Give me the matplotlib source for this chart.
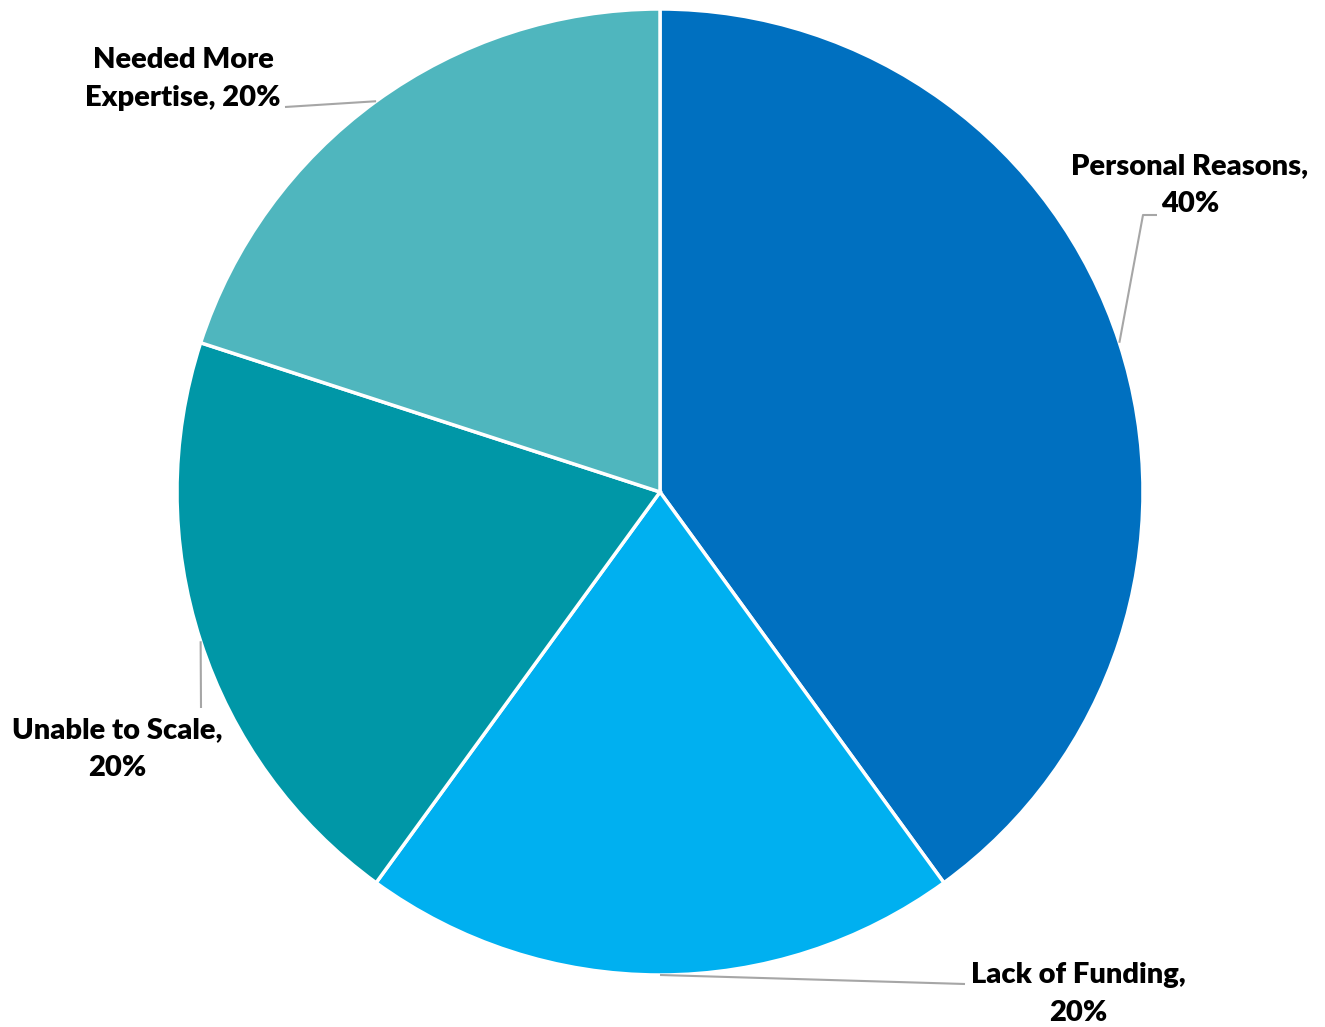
import matplotlib.pyplot as plt
import numpy as np

# data
categories = ["Personal Reasons", "Lack of Funding", "Unable to Scale", "Needed More Expertise"]
shares = [40, 20, 20, 20]
label_texts = ["Personal Reasons,\n40%", "Lack of Funding,\n20%", "Unable to Scale,\n20%", "Needed More\nExpertise, 20%"]
colors = ["#0070C0", "#00B0F0", "#0097A7", "#4FB6BE"]

W, H = 1325, 1027
fig = plt.figure(figsize=(W / 100, H / 100), dpi=100)
ax = fig.add_axes([0, 0, 1, 1])

cx, cy, r = 660, H - 492, 483
wedges, _ = ax.pie(shares, colors=colors, startangle=90, counterclock=False,
                   center=(cx, cy), radius=r, frame=True,
                   wedgeprops=dict(edgecolor="white", linewidth=2.5))
ax.set_xlim(0, W)
ax.set_ylim(0, H)
ax.set_aspect("equal")
ax.axis("off")

# label text positions (pixel, top-origin) and leader elbow points
text_pos = [(1190, 185), (1078, 994), (117, 749), (183, 79)]
elbows = [[(1143, 215), (1157, 215)], [(965, 984)], [(201, 708)], [(285, 107)]]

for w, lab, (tx, ty), elb in zip(wedges, label_texts, text_pos, elbows):
    mid = np.deg2rad((w.theta1 + w.theta2) / 2)
    px, py = cx + r * np.cos(mid), cy + r * np.sin(mid)
    xs = [px] + [e[0] for e in elb]
    ys = [py] + [H - e[1] for e in elb]
    ax.plot(xs, ys, color="#A6A6A6", linewidth=1.5, solid_capstyle="butt", zorder=1)
    ax.text(tx, H - ty, lab, ha="center", va="center", fontsize=21,
            fontweight="heavy", family="Lato", linespacing=1.55, color="black")

fig.savefig("out.png", dpi=100)
